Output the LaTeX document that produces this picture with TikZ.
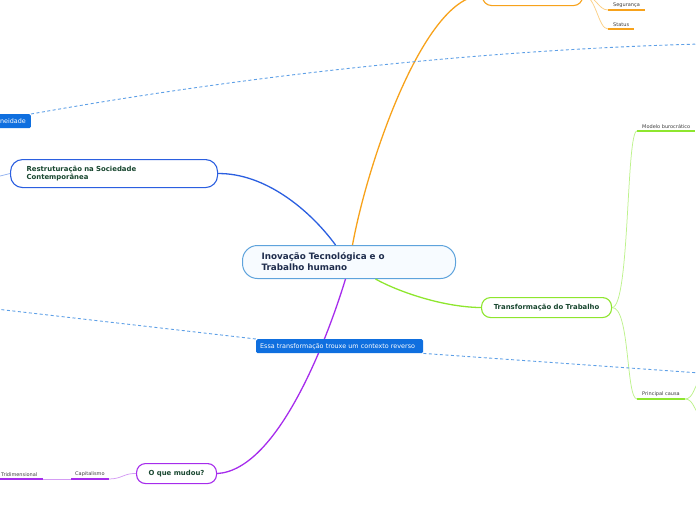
\documentclass[tikz,border=0pt]{standalone}
\usepackage{fontspec}
\setmainfont{DejaVu Sans}
\usetikzlibrary{positioning,calc}
\definecolor{rootblue}{HTML}{5EA3DC}
\definecolor{rootfill}{HTML}{F7FBFF}
\definecolor{rootink}{HTML}{1F2D4D}
\definecolor{topor}{HTML}{F7A21B}
\definecolor{orlight}{HTML}{FBCF85}
\definecolor{restblue}{HTML}{2B5FE0}
\definecolor{restlight}{HTML}{8FB0F0}
\definecolor{mupurple}{HTML}{A62CEC}
\definecolor{pulight}{HTML}{D49CF4}
\definecolor{trgreen}{HTML}{8EE62E}
\definecolor{grlight}{HTML}{BDF28C}
\definecolor{branchink}{HTML}{18462F}
\definecolor{leafink}{HTML}{3D3D3D}
\definecolor{noteblue}{HTML}{0F6FDF}
\definecolor{linkblue}{HTML}{5D9FE6}

\begin{document}
\begin{tikzpicture}[x=1pt,y=-1pt,
  rootbox/.style={draw=rootblue,fill=rootfill,line width=1pt,rounded corners=15pt,align=left,text width=175pt,inner xsep=19pt,minimum height=33pt,text=rootink,font=\fontsize{8.8}{11}\selectfont\bfseries},
  branchbox/.style={draw=#1,fill=white,line width=1.1pt,rounded corners=9pt,minimum height=20pt,text=branchink,font=\fontsize{6.9}{8}\selectfont\bfseries},
  leaflabel/.style={inner xsep=5pt,inner ysep=2pt,text=leafink,font=\fontsize{5}{6}\selectfont},
  notebox/.style={fill=noteblue,rounded corners=1.5pt,inner xsep=4pt,minimum height=14pt,text=white,font=\fontsize{6.4}{7}\selectfont},
  trunk/.style={draw=#1,line width=1.3pt},
  twig/.style={draw=#1,line width=0.75pt},
  underln/.style={draw=#1,line width=1.6pt},
  linkline/.style={draw=linkblue,dash pattern=on 3pt off 2.5pt,line width=0.9pt}]
  \useasboundingbox (0,0) rectangle (696,520);

  \node[rootbox,anchor=north west] (root) at (242,245) {Inovação Tecnológica e o\\Trabalho humano};
  \node[branchbox=topor,anchor=north west,minimum width=100pt] (top) at (482,-15) {};
  \node[branchbox=restblue,anchor=north west,minimum height=28pt,rounded corners=12pt,text width=175pt,inner xsep=16pt,align=left] (restr) at (10,159) {Restruturação na Sociedade\\Contemporânea};
  \node[branchbox=trgreen,anchor=north west,minimum width=130pt] (trans) at (481,297) {Transformação do Trabalho};
  \node[branchbox=mupurple,anchor=north west,minimum width=80pt] (mudou) at (136,463) {O que mudou?};

  \node[leaflabel,anchor=south west] (seg) at (608,10) {Segurança};
  \node[leaflabel,anchor=south west] (stat) at (608,29) {Status};
  \node[leaflabel,anchor=south west] (model) at (637,131) {Modelo burocrático};
  \node[leaflabel,anchor=south west] (cause) at (637,399) {Principal causa};
  \node[leaflabel,anchor=south west,inner xsep=4pt] (capit) at (71,479) {Capitalismo};
  \node[leaflabel,anchor=south west] (tridi) at (-4,479) {Tridimensional};
  \foreach \n/\c in {seg/topor,stat/topor,model/trgreen,cause/trgreen,capit/mupurple,tridi/mupurple}
    \draw[underln=\c] (\n.south west) -- (\n.south east);

  \draw[trunk=topor] ([xshift=3.5pt]root.north) .. controls (368,160) and (425,-5) .. (top.west);
  \draw[trunk=restblue] ([xshift=-13.5pt]root.north) .. controls (310,210) and (265,173) .. (restr.east);
  \draw[trunk=mupurple] ([xshift=-3.5pt]root.south) .. controls (330,330) and (280,470) .. (mudou.east);
  \draw[trunk=trgreen] ([xshift=26.5pt]root.south) .. controls (395,290) and (440,307) .. (trans.west);

  \coordinate (offa) at (700,382);
  \coordinate (offb) at (700,414);
  \coordinate (offc) at (-4,177);
  \draw[twig=orlight] (top.east) .. controls (596,-5) and (598,10) .. (seg.south west);
  \draw[twig=orlight] (top.east) .. controls (596,-5) and (598,29) .. (stat.south west);
  \draw[twig=grlight] (trans.east) .. controls (630,307) and (626,131) .. (model.south west);
  \draw[twig=grlight] (trans.east) .. controls (630,307) and (626,399) .. (cause.south west);
  \draw[twig=grlight] (cause.south east) .. controls (694,399) and (694,384) .. (offa);
  \draw[twig=grlight] (cause.south east) .. controls (694,399) and (694,412) .. (offb);
  \draw[twig=pulight] (mudou.west) .. controls (124,473) and (122,479) .. (capit.south east);
  \draw[twig=pulight] (capit.south west) -- (tridi.south east);
  \draw[twig=restlight] (restr.west) -- (offc);

  \node[notebox,anchor=north west,text width=159pt,align=left] (revers) at (256,339) {Essa transformação trouxe um contexto reverso};
  \node[notebox,anchor=north east,inner xsep=5pt] (hetero) at (31,114) {neidade};

  \coordinate (offd) at (700,44);
  \coordinate (offe) at (-4,309);
  \coordinate (offf) at (700,373);
  \draw[linkline] (hetero.north east) .. controls (250,75) and (480,50) .. (offd);
  \draw[linkline] (offe) -- (revers.north west);
  \draw[linkline] (revers.south east) -- (offf);
\end{tikzpicture}
\end{document}
